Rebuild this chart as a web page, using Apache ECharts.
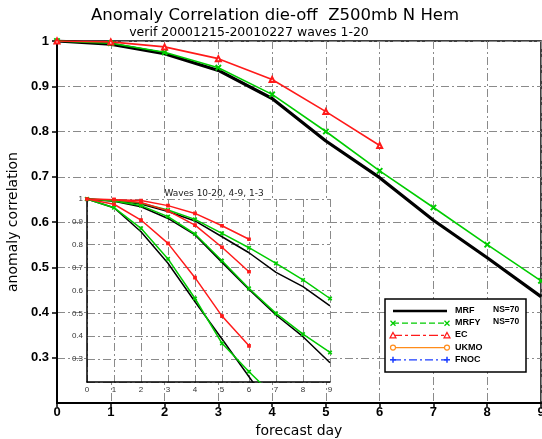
<!DOCTYPE html>
<html>
<head>
<meta charset="utf-8">
<script src="https://cdn.jsdelivr.net/npm/echarts@6/dist/echarts.min.js"></script>
<style>
  html, body { margin: 0; padding: 0; background: #fff; }
  #chart { width: 542px; height: 439px; }
</style>
</head>
<body>
<div id="chart"></div>
<script>
// forecast days
var days = [0, 1, 2, 3, 4, 5, 6, 7, 8, 9];

// main panel, waves 1-20
var mrf  = [1, 0.993, 0.972, 0.935, 0.873, 0.779, 0.698, 0.604, 0.521, 0.435];
var mrfy = [1, 0.995, 0.975, 0.941, 0.882, 0.800, 0.713, 0.632, 0.550, 0.470];
var ec   = [1, 0.998, 0.987, 0.961, 0.915, 0.844, 0.769];

// inset, waves 1-3
var mrfW13  = [1, 0.993, 0.978, 0.945, 0.904, 0.835, 0.765, 0.679, 0.617, 0.533];
var mrfyW13 = [1, 0.994, 0.981, 0.952, 0.911, 0.850, 0.787, 0.719, 0.646, 0.565];
var ecW13   = [1, 0.997, 0.993, 0.971, 0.937, 0.883, 0.824];
// inset, waves 4-9
var mrfW49  = [1, 0.990, 0.966, 0.915, 0.843, 0.723, 0.605, 0.493, 0.398, 0.284];
var mrfyW49 = [1, 0.991, 0.971, 0.923, 0.847, 0.730, 0.609, 0.500, 0.409, 0.329];
var ecW49   = [1, 0.997, 0.985, 0.948, 0.886, 0.789, 0.682];
// inset, waves 10-20 (last points fall below the axis and get clipped)
var mrfW1020  = [1, 0.962, 0.857, 0.719, 0.551, 0.388, 0.223, 0.06];
var mrfyW1020 = [1, 0.962, 0.872, 0.738, 0.565, 0.369, 0.245, 0.13];
var ecW1020   = [1, 0.977, 0.908, 0.806, 0.656, 0.488, 0.358];

var yTicks = ['0.3', '0.4', '0.5', '0.6', '0.7', '0.8', '0.9', '1'];

var legendNames = ['MRF', 'MRFY', 'EC', 'UKMO', 'FNOC'];
var nsLabels = ['NS=70', 'NS=70', '', '', ''];

var BLACK = '#000', GREEN = '#00cc00', RED = '#ff1a1a', ORANGE = '#ff8c1a', BLUE = '#1a3cff';
var GRID = '#8a8a8a';
var CROSS = 'path://M0,1L1,0L5,4L9,0L10,1L6,5L10,9L9,10L5,6L1,10L0,9L4,5Z';

function pairs(vals) {
    return vals.map(function (v, i) { return [days[i], v]; });
}

function tickLabel(v) {
    var s = (Math.round(v * 10) / 10).toString();
    return yTicks.indexOf(s) >= 0 ? s : '';
}

var dashDot = [8, 3, 2, 3];

function lineSeries(data, color, width, symbol, size, grid) {
    return {
        type: 'line',
        xAxisIndex: grid,
        yAxisIndex: grid,
        data: pairs(data),
        clip: true,
        symbol: symbol || 'none',
        symbolSize: size || 0,
        showSymbol: !!symbol,
        z: grid ? 6 : 2,
        lineStyle: { color: color, width: width },
        itemStyle: { color: color, borderColor: color, borderWidth: 1.2 },
        emphasis: { disabled: true },
        animation: false
    };
}

// legend drawn as graphics so it can carry the end markers and NS text
function legendGraphics() {
    var items = [{
        type: 'rect', z: 50,
        shape: { x: 385, y: 299, width: 141, height: 73 },
        style: { fill: '#fff', stroke: '#000', lineWidth: 1.5 }
    }];
    var colors = [BLACK, GREEN, RED, ORANGE, BLUE];
    var dashes = [null, [6, 3], [9, 3, 3, 3], null, [8, 3, 2, 3]];
    var marks = [null, 'cross', 'triangle', 'circle', 'plus'];
    legendNames.forEach(function (name, i) {
        var y = 311 + i * 12.2;
        var c = colors[i];
        items.push({
            type: 'line', z: 51,
            shape: { x1: 393, y1: y, x2: 447, y2: y },
            style: { stroke: c, lineWidth: i === 0 ? 2.5 : 1.2, lineDash: dashes[i] }
        });
        if (marks[i]) {
            [393, 447].forEach(function (x) {
                var m = marks[i];
                if (m === 'triangle') {
                    items.push({ type: 'polygon', z: 52, shape: { points: [[x, y - 3], [x - 3, y + 2.5], [x + 3, y + 2.5]] },
                        style: { fill: '#fff', stroke: c, lineWidth: 1.2 } });
                } else if (m === 'circle') {
                    items.push({ type: 'circle', z: 52, shape: { cx: x, cy: y, r: 2.5 },
                        style: { fill: '#fff', stroke: c, lineWidth: 1.2 } });
                } else if (m === 'cross') {
                    items.push({ type: 'line', z: 52, shape: { x1: x - 2.5, y1: y - 2.5, x2: x + 2.5, y2: y + 2.5 }, style: { stroke: c, lineWidth: 1.3 } });
                    items.push({ type: 'line', z: 52, shape: { x1: x - 2.5, y1: y + 2.5, x2: x + 2.5, y2: y - 2.5 }, style: { stroke: c, lineWidth: 1.3 } });
                } else {
                    items.push({ type: 'line', z: 52, shape: { x1: x - 3, y1: y, x2: x + 3, y2: y }, style: { stroke: c, lineWidth: 1.5 } });
                    items.push({ type: 'line', z: 52, shape: { x1: x, y1: y - 3, x2: x, y2: y + 3 }, style: { stroke: c, lineWidth: 1.5 } });
                }
            });
        }
        items.push({
            type: 'text', x: 455, y: y - 5, z: 52,
            style: { text: name, fill: '#000', font: 'bold 9px "Liberation Sans", sans-serif' }
        });
        if (nsLabels[i]) {
            items.push({
                type: 'text', x: 493, y: y - 6, z: 52,
                style: { text: nsLabels[i], fill: '#000', font: 'bold 8.5px "Liberation Sans", sans-serif' }
            });
        }
    });
    return items;
}

var chart = echarts.init(document.getElementById('chart'), null, { renderer: 'canvas' });

chart.setOption({
    backgroundColor: '#fff',
    animation: false,
    title: [{
        text: 'Anomaly Correlation die-off  Z500mb N Hem',
        left: 270, top: 2, textAlign: 'center',
        textStyle: { fontFamily: 'DejaVu Sans', fontSize: 16.5, fontWeight: 'normal', color: '#000' }
    }, {
        text: 'verif 20001215-20010227 waves 1-20',
        left: 244, top: 21, textAlign: 'center',
        textStyle: { fontFamily: 'DejaVu Sans', fontSize: 12.5, fontWeight: 'normal', color: '#000' }
    }, {
        text: 'Waves 10-20, 4-9, 1-3',
        left: 209, top: 184, textAlign: 'center', z: 8,
        textStyle: { fontFamily: 'DejaVu Sans', fontSize: 9, fontWeight: 'normal', color: '#222' }
    }],
    grid: [{
        left: 57, top: 41, right: 1, bottom: 36, outerBoundsMode: 'none', containLabel: false,
        show: true, borderColor: '#000', borderWidth: 1.5, z: 0
    }, {
        left: 87, top: 199, width: 243, height: 183, outerBoundsMode: 'none', containLabel: false,
        show: true, backgroundColor: '#fff', borderWidth: 0, z: 3
    }],
    xAxis: [{
        gridIndex: 0, type: 'value', min: 0, max: 9, interval: 1,
        name: 'forecast day', nameLocation: 'middle', nameGap: 18,
        nameTextStyle: { fontFamily: 'DejaVu Sans', fontSize: 14, color: '#000' },
        axisLine: { lineStyle: { color: '#000', width: 2 } },
        axisTick: { show: true, length: 4, lineStyle: { color: '#000', width: 1.5 } },
        axisLabel: { color: '#000', fontFamily: 'Liberation Sans', fontWeight: 'bold', fontSize: 13, margin: 3 },
        splitLine: { show: true, lineStyle: { color: GRID, width: 1, type: dashDot } }
    }, {
        gridIndex: 1, type: 'value', min: 0, max: 9, interval: 1, z: 4,
        axisLine: { lineStyle: { color: '#000', width: 1.5 } },
        axisTick: { show: false },
        axisLabel: { color: '#333', fontFamily: 'Liberation Sans', fontSize: 8, margin: 4 },
        splitLine: { show: true, lineStyle: { color: GRID, width: 1, type: dashDot } }
    }],
    yAxis: [{
        gridIndex: 0, type: 'value', min: 0.2, max: 1, interval: 0.1,
        name: 'anomaly correlation', nameLocation: 'middle', nameGap: 33,
        nameTextStyle: { fontFamily: 'DejaVu Sans', fontSize: 14, color: '#000' },
        axisLine: { lineStyle: { color: '#000', width: 2 } },
        axisTick: { show: true, length: 5, lineStyle: { color: '#000', width: 1.5 },
            customValues: yTicks.map(Number) },
        axisLabel: { color: '#000', fontFamily: 'Liberation Sans', fontWeight: 'bold', fontSize: 13, margin: 8, formatter: tickLabel },
        splitLine: { show: true, lineStyle: { color: GRID, width: 1, type: dashDot } }
    }, {
        gridIndex: 1, type: 'value', min: 0.2, max: 1, interval: 0.1, z: 4,
        axisLine: { lineStyle: { color: '#000', width: 1.5 } },
        axisTick: { show: false },
        axisLabel: { color: '#333', fontFamily: 'Liberation Sans', fontSize: 8, margin: 4, formatter: tickLabel },
        splitLine: { show: true, lineStyle: { color: GRID, width: 1, type: dashDot } }
    }],
    series: [
        lineSeries(mrf, BLACK, 3.2, null, 0, 0),
        lineSeries(mrfy, GREEN, 1.6, CROSS, 5, 0),
        lineSeries(ec, RED, 1.6, 'emptyTriangle', 5, 0),

        lineSeries(mrfW13, BLACK, 1.5, null, 0, 1),
        lineSeries(mrfyW13, GREEN, 1.5, CROSS, 3, 1),
        lineSeries(ecW13, RED, 1.5, 'rect', 2.5, 1),
        lineSeries(mrfW49, BLACK, 1.5, null, 0, 1),
        lineSeries(mrfyW49, GREEN, 1.5, CROSS, 3, 1),
        lineSeries(ecW49, RED, 1.5, 'rect', 2.5, 1),
        lineSeries(mrfW1020, BLACK, 1.5, null, 0, 1),
        lineSeries(mrfyW1020, GREEN, 1.5, CROSS, 3, 1),
        lineSeries(ecW1020, RED, 1.5, 'rect', 2.5, 1)
    ],
    graphic: legendGraphics()
});
</script>
</body>
</html>
